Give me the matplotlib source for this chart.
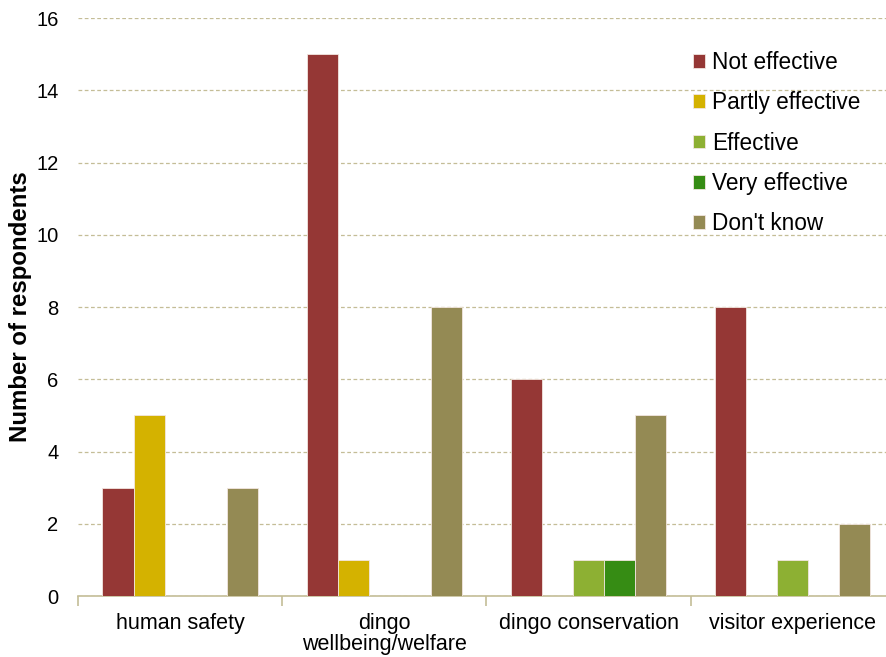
import numpy as np
import matplotlib
matplotlib.use("Agg")
import matplotlib.pyplot as plt

plt.rcParams['font.family'] = ['Liberation Sans', 'DejaVu Sans']

categories = ["human safety", "dingo\nwellbeing/welfare", "dingo conservation", "visitor experience"]
series_names = ["Not effective", "Partly effective", "Effective", "Very effective", "Don't know"]
not_effective = [3, 15, 6, 8]
partly_effective = [5, 1, 0, 0]
effective = [0, 0, 1, 1]
very_effective = [0, 0, 1, 0]
dont_know = [3, 8, 5, 2]
colors = ["#953735", "#D4B200", "#8DB033", "#368C14", "#948A54"]
yticks = [0, 2, 4, 6, 8, 10, 12, 14, 16]

series = [not_effective, partly_effective, effective, very_effective, dont_know]

fig = plt.figure(figsize=(8.86, 6.57), dpi=100)
ax = fig.add_axes([0.088, 0.0928, 0.922, 0.8798])

x = np.arange(len(categories))
width = 0.152
for i, (vals, name, c) in enumerate(zip(series, series_names, colors)):
    ax.bar(x + (i - 2) * width, vals, width, color=c, label=name,
           edgecolor="#F2E6E0", linewidth=0.6, zorder=3)

ax.set_xlim(-0.5, len(categories) - 0.5)
ax.set_ylim(0, 16)
ax.set_yticks(yticks)
ax.tick_params(axis='y', length=0, labelsize=14.5, pad=14)
ax.yaxis.grid(True, linestyle=(0, (3, 2)), color="#C4BD97", linewidth=0.9, zorder=0)
ax.set_axisbelow(True)

# category boundaries carry the ticks, labels sit at the centres
ax.set_xticks(np.arange(len(categories) + 1) - 0.5)
ax.set_xticklabels([])
ax.set_xticks(x, minor=True)
ax.set_xticklabels(categories, minor=True, fontsize=15.5, linespacing=1.0)
ax.tick_params(axis='x', which='major', length=7, color="#C4BD97", width=1.2)
ax.tick_params(axis='x', which='minor', length=0, pad=12)

for s in ['left', 'right', 'top']:
    ax.spines[s].set_visible(False)
ax.spines['bottom'].set_color("#C4BD97")
ax.spines['bottom'].set_linewidth(1.2)

ax.set_ylabel("Number of respondents", fontsize=17.3, fontweight='bold', labelpad=3)

ax.legend(loc='upper left', bbox_to_anchor=(0.728, 0.978), frameon=False, fontsize=16.3,
          handlelength=0.55, handleheight=0.55, handletextpad=0.3, labelspacing=0.76)

fig.savefig("out.png", dpi=100)
